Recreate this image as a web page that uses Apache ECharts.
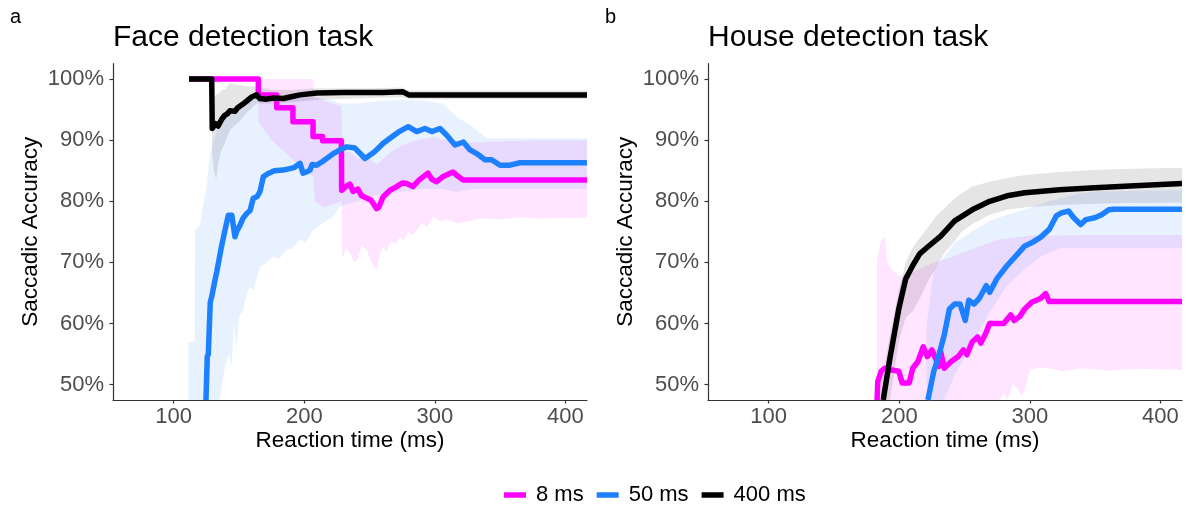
<!DOCTYPE html>
<html>
<head>
<meta charset="utf-8">
<title>Saccadic accuracy by reaction time</title>
<script src="https://cdn.jsdelivr.net/npm/echarts@6/dist/echarts.min.js"></script>
<style>
  html, body { margin: 0; padding: 0; background: #fff; }
  #chart { width: 1186px; height: 508px; }
</style>
</head>
<body>
<div id="chart"></div>
<script>
// Axis ticks
const xTicks = [100, 200, 300, 400];
const yTicks = [50, 60, 70, 80, 90, 100];
const seriesNames = ['8 ms', '50 ms', '400 ms'];

// Face detection task: running accuracy (reaction time ms, accuracy %)
const face8 = [
  [111.7, 100], [164.8, 100], [164.8, 97.4], [178.9, 97.4], [178.9, 95.3], [191.3, 95.3],
  [191.3, 93], [206.7, 93], [206.7, 90.6], [214, 90.6], [214, 89.9], [228.4, 89.9],
  [228.6, 81.8], [232.5, 82.5], [235, 82.8], [237.3, 81.6], [241, 82], [244, 80.9],
  [248, 80.5], [251, 80.2], [255.4, 78.8], [257, 79], [260.3, 80.7], [265.6, 81.8],
  [270.8, 82.4], [275, 83], [278.4, 82.9], [283.2, 82.4], [288, 83.5], [294.7, 84.6],
  [297.6, 83.6], [301.4, 83.2], [306, 84], [313.9, 84.8], [317, 84.2], [321.5, 83.5],
  [416.5, 83.5]
];
const face50 = [
  [124.7, 47.5], [125.7, 54.6], [126.5, 55], [128, 63.5], [129.1, 64.4],
  [130.5, 64.6], [131.6, 67.1], [133, 68.5], [134.9, 70.7], [136.5, 72.5], [139.3, 75.3],
  [141.8, 77.7], [144.5, 77.7], [146.9, 74.2], [148.5, 75.2], [150.8, 76.1], [153, 77.2],
  [155.9, 78], [158.5, 78.5], [160.9, 80.5], [164, 80.8], [166.1, 81.6], [168.6, 84],
  [172, 84.5], [177, 85], [183.9, 85.1], [188, 85.3], [192, 85.5], [196.7, 86.2],
  [199, 84.6], [201.8, 84.8], [204.4, 85.1], [206, 86], [209.5, 85.9], [214, 86.5],
  [222.2, 87.8], [228, 88.5], [232.5, 88.9], [238.8, 88.7], [246.5, 87], [252, 87.8],
  [255.4, 88.4], [260, 89.4], [265.6, 90.3], [272, 91.3], [279.6, 92.2], [286.1, 91.4],
  [292.4, 91.9], [297.6, 91.4], [303.9, 91.9], [309.1, 90.8], [315.4, 89.2], [321.8, 89.7],
  [326.9, 88.4], [332, 87.8], [338.4, 86.8], [343.5, 86.8], [349.9, 85.9], [357.5, 85.9],
  [365.2, 86.3], [416.5, 86.3]
];
const face400 = [
  [111.7, 100], [129.1, 100], [129.5, 91.9], [131, 92], [132, 92.7], [134, 92.3],
  [135.4, 92.5], [137, 93.5], [139.3, 94.1], [141, 94.3], [143, 94.8], [146.9, 94.7],
  [149, 95.3], [153, 95.9], [156, 96.4], [160, 97.1], [163.5, 97.4], [166, 96.8],
  [171, 96.7], [176, 96.9], [183.9, 96.8], [190, 97.1], [196.7, 97.4], [209.5, 97.7],
  [230, 97.8], [260, 97.8], [275.6, 97.9], [280, 97.4], [416.5, 97.4]
];

// Face detection task: confidence bands (ms, lower %, upper %)
const face8Band = [
  [164.8, 93, 100], [175, 90, 100], [185, 88, 100], [195, 86, 100], [206.7, 84, 100],
  [208, 80, 97], [215, 79, 96.5], [222, 79.5, 96], [228.6, 80, 95.5], [229, 70.5, 88.5],
  [232, 72.5, 88.2], [235, 71.5, 88], [238, 70, 87.6], [241, 70.5, 87], [244, 72.8, 87.3],
  [248, 72, 87.5], [251, 70.2, 86.8], [255.4, 68.8, 86], [258, 71.5, 86.5], [260.3, 72.5, 87],
  [263, 71.8, 87.5], [266, 73.5, 88], [270, 73, 88.6], [273.3, 74.2, 89], [276, 73.6, 89.2],
  [280, 75, 89.5], [283, 74.4, 89.8], [286.1, 75.3, 90], [290, 76.4, 90.2], [294, 75.8, 90.3],
  [298.6, 77.5, 90.5], [304, 76.8, 90.2], [310, 77, 90], [317, 76.4, 89.8], [324.4, 76.7, 89.6],
  [336, 77.2, 89.7], [350, 77, 89.8], [365, 77.4, 89.9], [380, 77.2, 90], [416.5, 77.3, 90]
];
const face50Band = [
  [111.2, 40, 57], [116.2, 40, 57], [116.3, 40, 75.3], [120, 40, 76], [122, 40, 79],
  [125, 40, 82], [128, 40, 88], [131, 40, 90], [135, 40, 93], [139.3, 52.9, 94.5],
  [142, 55, 95], [144.4, 53, 95.3], [146, 60, 95.5], [148.2, 56, 95.7], [150, 61, 96],
  [153.3, 62.2, 96.3], [156, 64.8, 96.4], [158, 66, 96.5], [161, 65.5, 96.7], [166.1, 69.3, 97],
  [170, 69.8, 97], [176.3, 71, 97], [181, 70.6, 97], [186, 72, 97], [191, 72.4, 97],
  [196.7, 73.7, 97], [201, 73.2, 97], [206.9, 75.3, 97], [214, 76.4, 96.8], [222.2, 77.5, 96.5],
  [227.3, 79.1, 96], [240, 80, 96], [255, 81, 96.3], [273, 81.5, 96.6], [290, 82, 96.5],
  [306, 82, 96], [316.7, 81.5, 93.8], [329, 82, 92.2], [339.7, 82, 90.3], [416.5, 82, 90.3]
];
const face400Band = [
  [111.7, 100, 100], [129.1, 100, 100], [129.3, 88, 96], [131, 85, 97], [132.5, 83.5, 97.5],
  [134, 86, 97.5], [136, 88, 98], [140, 90, 98.5], [143.1, 91.7, 99.3], [150, 93, 99],
  [156, 94.5, 98.8], [163.5, 96, 98.7], [175, 96, 98.2], [190, 96.2, 98.2], [210, 96.6, 98.5],
  [250, 96.9, 98.5], [275, 97, 98.6], [280, 96.7, 98.1], [416.5, 96.7, 98.1]
];

// House detection task: running accuracy (ms, %)
const house8 = [
  [183, 47.5], [183.5, 50.5], [186.1, 52.2], [188.8, 52.7], [194.2, 52.4], [199.6, 52.2],
  [202.2, 50.3], [207.6, 50.3], [210.3, 52.7], [214.3, 53.8], [218.3, 56.2], [221.5, 54.6],
  [225, 55.7], [230.4, 53], [231.7, 55.4], [234.4, 52.7], [239.8, 53.8], [245.1, 54.6],
  [249.1, 55.7], [251.8, 54.9], [255.8, 57], [259.9, 57.8], [262.5, 56.8], [266.6, 58.6],
  [269.2, 60], [280, 60], [285.3, 61.4], [288, 60.5], [292, 61.1], [296.1, 62.4],
  [301.4, 63.5], [308.1, 64.1], [312.1, 64.9], [314.8, 63.6], [416.5, 63.6]
];
const house50 = [
  [221.8, 47.5], [222.3, 47.9], [226.4, 52.2], [230.4, 54.9], [234.4, 58.1], [238.4, 62.4],
  [242.4, 63.2], [246.5, 63.2], [250.5, 60.5], [253.2, 63.8], [257.2, 63.2], [261.2, 64.1],
  [266.6, 66.2], [269.2, 65.1], [274.6, 67.3], [282.6, 69.5], [290.7, 71.4], [296.1, 72.7],
  [301.4, 73.2], [308.1, 74.1], [314.8, 75.4], [320.2, 77.6], [324.2, 78.1], [329.6, 78.4],
  [333.6, 77.3], [338.9, 76.2], [342.9, 77], [349.7, 77.3], [355, 77.8], [360.4, 78.6],
  [364.4, 78.7], [416.5, 78.7]
];
const house400 = [
  [187.6, 47.5], [188, 47.9], [192.8, 54.3], [199.6, 62.4], [204.9, 67.3], [210.3, 69.5],
  [215.6, 71.4], [221, 72.4], [231.7, 74.3], [242.4, 76.8], [255.8, 78.6], [269.2, 80],
  [282.6, 80.9], [296.1, 81.4], [322.9, 81.9], [349.7, 82.2], [376.5, 82.5], [416.5, 82.9]
];

// House detection task: confidence bands (ms, lower %, upper %)
const house8Band = [
  [182.9, 40, 70.5], [186, 40, 73.5], [188.8, 40, 74.3], [191, 40, 70], [194.2, 40, 68.9],
  [199.6, 40, 67.8], [210, 40, 68.4], [221, 40, 69.5], [242.4, 40, 71.1], [269.2, 40, 73.2],
  [277, 44, 73.8], [280, 48.8, 73.9], [282, 47.6, 73.9], [284.6, 48.3, 74], [287, 50.2, 74],
  [290, 49.5, 74.1], [293, 48.4, 74.2], [296, 49, 74.3], [300, 52.5, 74.4], [310, 52.8, 74.4],
  [325, 52.2, 74.4], [340, 52.7, 74.5], [360, 52.3, 74.5], [385, 52.6, 74.5], [416.5, 52.4, 74.5]
];
const house50Band = [
  [221, 40, 60], [226.4, 40, 68.9], [234.4, 40, 71], [242.4, 51.6, 73.2], [255.8, 56.5, 75.1],
  [269.2, 61.9, 76.8], [282.6, 66.2, 77.8], [296, 68.9, 78.6], [309.4, 71.1, 79.6],
  [322.9, 72.3, 80.5], [336.3, 72.3, 81.2], [349.7, 72.3, 81.6], [416.5, 72.3, 81.8]
];
const house400Band = [
  [186, 44, 50], [192.8, 47, 58], [199.6, 57, 65.5], [204.9, 61, 70], [210.3, 62, 72.5],
  [215.6, 64, 74], [221, 66.5, 75.5], [229, 69.5, 77.8], [234.4, 71.5, 78.8], [242.4, 73.5, 80.5],
  [247.8, 75, 81.3], [255.8, 76.3, 82.4], [269.2, 77.8, 83.2], [282.6, 78.6, 83.8],
  [296, 79, 84.3], [322.9, 79.4, 84.8], [349.7, 79.6, 85.1], [376.5, 79.7, 85.3], [416.5, 79.8, 85.5]
];

const colors = ['#FF00FF', '#1C80FF', '#000000'];
const bandColors = ['rgba(255,0,255,0.1)', 'rgba(28,128,255,0.1)', 'rgba(0,0,0,0.1)'];
const X_MIN = 53.5, X_MAX = 416.5, Y_MIN = 47.5, Y_MAX = 102.5;
const FONT = '"Liberation Sans", Arial, Helvetica, sans-serif';

const clamp = (v, lo, hi) => Math.min(hi, Math.max(lo, v));

function lineSeries(name, data, color, g) {
  return {
    type: 'line', name: name, data: data, xAxisIndex: g, yAxisIndex: g,
    showSymbol: false, symbol: 'none', clip: true, z: 3, animation: false,
    lineStyle: { color: color, width: 5.5, cap: 'butt', join: 'round' },
    itemStyle: { color: color }
  };
}

// Ribbon drawn as one polygon: upper edge left to right, lower edge back
function bandSeries(name, rows, fill, g) {
  return {
    type: 'custom', name: name, xAxisIndex: g, yAxisIndex: g, z: 1, silent: true,
    clip: true, animation: false,
    data: [[rows[0][0], rows[0][1]]],
    renderItem: function (params, api) {
      const up = rows.map(r => api.coord([clamp(r[0], X_MIN, X_MAX), clamp(r[2], Y_MIN, Y_MAX)]));
      const lo = rows.map(r => api.coord([clamp(r[0], X_MIN, X_MAX), clamp(r[1], Y_MIN, Y_MAX)])).reverse();
      return { type: 'polygon', shape: { points: up.concat(lo) }, style: { fill: fill } };
    }
  };
}

function xAxis(g) {
  return {
    type: 'value', gridIndex: g, min: X_MIN, max: X_MAX,
    splitLine: { show: false },
    axisLine: { show: true, onZero: false, lineStyle: { color: '#333', width: 1.2 } },
    axisTick: { show: true, length: 3.5, customValues: xTicks, lineStyle: { color: '#333', width: 1.2 } },
    axisLabel: { customValues: xTicks, fontSize: 22, color: '#4D4D4D', fontFamily: FONT, margin: 6 }
  };
}
function yAxis(g) {
  return {
    type: 'value', gridIndex: g, min: Y_MIN, max: Y_MAX,
    splitLine: { show: false },
    axisLine: { show: true, onZero: false, lineStyle: { color: '#333', width: 1.2 } },
    axisTick: { show: true, length: 3.5, customValues: yTicks, lineStyle: { color: '#333', width: 1.2 } },
    axisLabel: { customValues: yTicks, fontSize: 22, color: '#4D4D4D', fontFamily: FONT, margin: 9,
      formatter: v => v + '%' }
  };
}

function text(str, x, y, size, opts) {
  return Object.assign({
    type: 'text', x: x, y: y, silent: true,
    style: { text: str, fill: '#000', font: size + 'px ' + FONT,
      textAlign: 'left', textVerticalAlign: 'middle', align: 'left', verticalAlign: 'middle' }
  }, opts || {});
}
function centered(el) {
  el.style.textAlign = 'center'; el.style.align = 'center';
  return el;
}

const chart = echarts.init(document.getElementById('chart'), null, { renderer: 'canvas' });
chart.setOption({
  backgroundColor: '#fff',
  animation: false,
  grid: [
    { left: 113, top: 63.7, width: 474, height: 336.3 },
    { left: 708, top: 63.7, width: 474, height: 336.3 }
  ],
  xAxis: [xAxis(0), xAxis(1)],
  yAxis: [yAxis(0), yAxis(1)],
  legend: {
    data: seriesNames, left: 499, top: 479, icon: 'rect', itemWidth: 22, itemHeight: 5.5,
    itemGap: 13, selectedMode: true,
    textStyle: { fontSize: 22, color: '#000', fontFamily: FONT, padding: [0, 0, 0, 5] }
  },
  graphic: [
    text('a', 10, 17, 20),
    text('b', 605, 17, 20),
    text('Face detection task', 113, 38, 30),
    text('House detection task', 708, 38, 30),
    centered(text('Reaction time (ms)', 350, 441, 22.5)),
    centered(text('Reaction time (ms)', 945, 441, 22.5)),
    centered(text('Saccadic Accuracy', 31, 231.8, 22.5, { rotation: Math.PI / 2 })),
    centered(text('Saccadic Accuracy', 626, 231.8, 22.5, { rotation: Math.PI / 2 }))
  ],
  series: [
    lineSeries(seriesNames[0], face8, colors[0], 0),
    lineSeries(seriesNames[1], face50, colors[1], 0),
    lineSeries(seriesNames[2], face400, colors[2], 0),
    lineSeries(seriesNames[0], house8, colors[0], 1),
    lineSeries(seriesNames[1], house50, colors[1], 1),
    lineSeries(seriesNames[2], house400, colors[2], 1),
    bandSeries('8 ms band', face8Band, bandColors[0], 0),
    bandSeries('50 ms band', face50Band, bandColors[1], 0),
    bandSeries('400 ms band', face400Band, bandColors[2], 0),
    bandSeries('8 ms band', house8Band, bandColors[0], 1),
    bandSeries('50 ms band', house50Band, bandColors[1], 1),
    bandSeries('400 ms band', house400Band, bandColors[2], 1)
  ]
});
</script>
</body>
</html>
